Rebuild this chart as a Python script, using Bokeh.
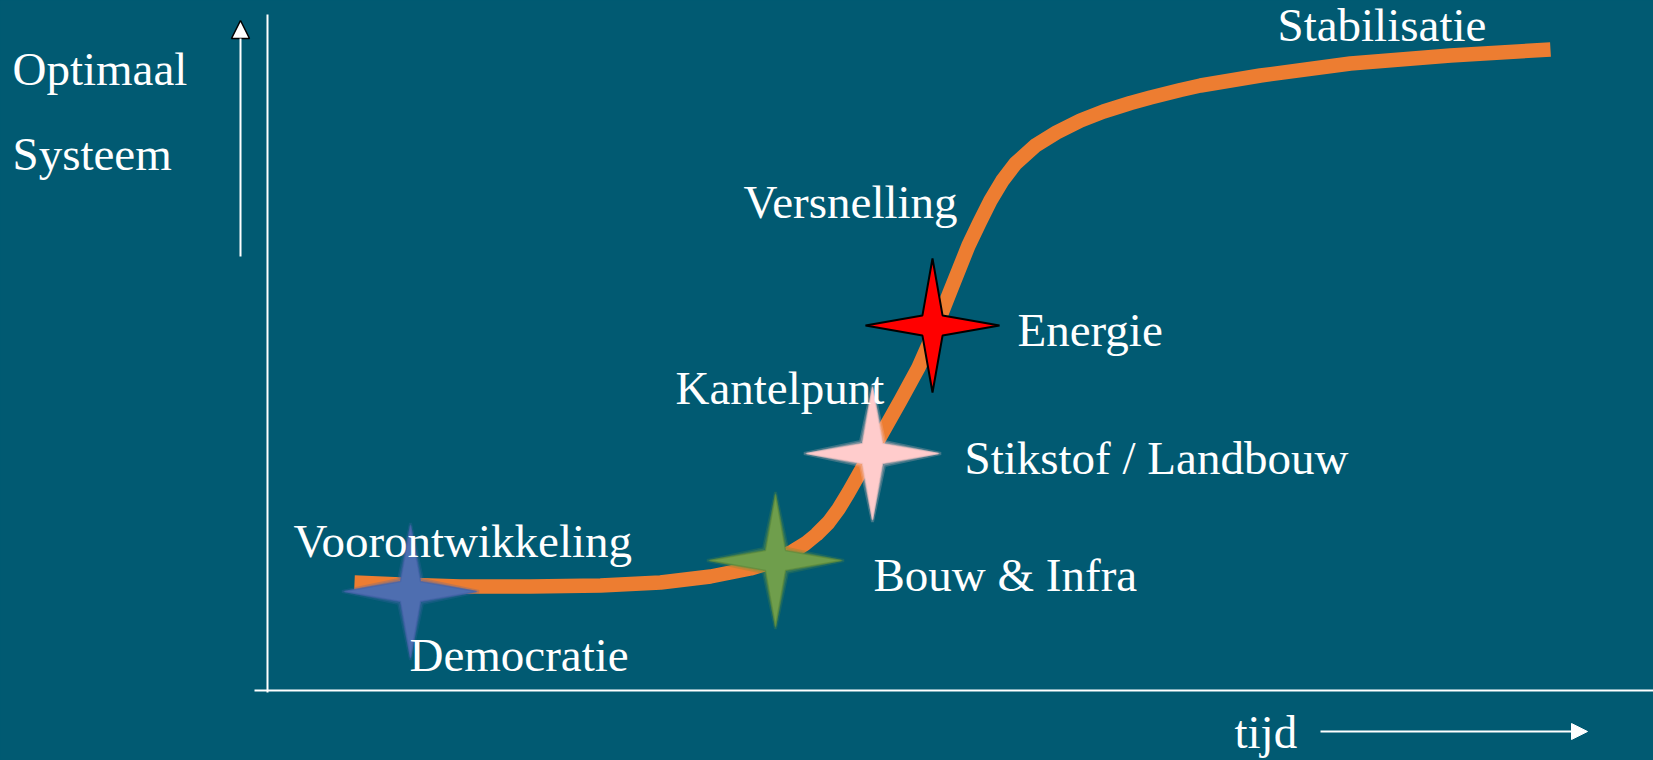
from bokeh.plotting import figure
from bokeh.models import Range1d, Arrow, NormalHead
from bokeh.core.properties import value
from bokeh.embed import file_html
from bokeh.resources import INLINE

BG = "#015a72"

# S-curve (time, level)
curve_t = [8.6, 13.2, 19.2, 26.2, 33.2, 39.2, 44.2, 48.2, 49.7, 51.2, 52.4, 53.7, 54.8, 56.0, 57.0,
           58.0, 59.7, 61.4, 63.2, 65.0, 66.5, 68.2, 70.0, 71.1, 72.2, 73.4, 74.7, 76.7, 78.8, 81.2,
           83.5, 86.2, 88.2, 91.2, 93.2, 99.2, 108.2, 118.2, 128.2]
curve_v = [10.8, 10.6, 10.4, 10.4, 10.5, 10.8, 11.4, 12.2, 12.65, 13.3, 13.9, 14.7, 15.6, 16.8, 18.15,
           19.8, 22.8, 25.8, 29.0, 32.3, 35.7, 40.0, 44.5, 46.8, 49.0, 51.0, 52.7, 54.5, 55.8, 57.0,
           57.9, 58.75, 59.3, 60.05, 60.5, 61.5, 62.7, 63.5, 64.1]

# stars (milestones)
star_names = ["Democratie", "Bouw & Infra", "Stikstof / Landbouw", "Energie"]
star_t = [14.2, 50.7, 60.4, 66.4]
star_v = [9.9, 13.0, 23.7, 36.5]
star_colors = ["#4e6eb0", "#6f9e4c", "#ffcccc", "#ff0000"]
star_edges = ["#4563a8", "#5d8a3c", "#f5c4c4", "#000000"]
star_soft = [True, True, True, False]

# labels (baseline positions)
labels = ["Optimaal", "Systeem", "Voorontwikkeling", "Democratie", "Kantelpunt",
          "Stikstof / Landbouw", "Bouw & Infra", "Energie", "Versnelling", "Stabilisatie", "tijd"]
label_t = [-25.6, -25.6, 2.5, 14.1, 40.7, 69.6, 60.5, 74.9, 47.5, 100.9, 96.6]
label_v = [60.6, 52.1, 13.4, 2.0, 28.7, 21.7, 10.0, 34.5, 47.3, 65.0, -5.7]
BASE_FIX = 1.55  # compensates the renderer's alphabetic-baseline shift
label_v_draw = [v + BASE_FIX for v in label_v]

p = figure(width=1653, height=760, output_backend="svg", toolbar_location=None,
           x_range=Range1d(-26.8, 138.5), y_range=Range1d(-7.0, 69.0),
           min_border=0, background_fill_color=BG, border_fill_color=BG)
p.axis.visible = False
p.grid.visible = False
p.outline_line_color = None

# axes lines
p.segment(x0=[-0.1], y0=[67.6], x1=[-0.1], y1=[-0.2], line_color="white", line_width=2)
p.segment(x0=[-1.4], y0=[0.0], x1=[138.5], y1=[0.0], line_color="white", line_width=2)

# direction arrows
p.add_layout(Arrow(end=NormalHead(size=18, fill_color="white", line_color="black", line_width=1.5),
                   x_start=-2.8, y_start=43.4, x_end=-2.8, y_end=67.0,
                   line_color="white", line_width=2))
p.add_layout(Arrow(end=NormalHead(size=16, fill_color="white", line_color="white", line_width=1),
                   x_start=105.2, y_start=-4.1, x_end=131.9, y_end=-4.1,
                   line_color="white", line_width=2))

# curve
p.line(curve_t, curve_v, line_color="#ed7d31", line_width=14.5, line_join="round", line_cap="butt")

# 4-pointed stars
R = 6.7
a = 0.15 * R
def star(cx, cy, r, ai):
    xs = [cx, cx + ai, cx + r, cx + ai, cx, cx - ai, cx - r, cx - ai]
    ys = [cy + r, cy + ai, cy, cy - ai, cy - r, cy - ai, cy, cy + ai]
    return xs, ys

for cx, cy, fc, ec, soft in zip(star_t, star_v, star_colors, star_edges, star_soft):
    if soft:
        xs, ys = star(cx, cy, R + 0.15, a + 0.2)
        p.patch(xs, ys, fill_color=fc, fill_alpha=0.3, line_color=ec, line_alpha=0.25, line_width=3)
        xs, ys = star(cx, cy, R - 0.1, a)
        p.patch(xs, ys, fill_color=fc, line_color=ec, line_alpha=0.7, line_width=1.5)
    else:
        xs, ys = star(cx, cy, R, a)
        p.patch(xs, ys, fill_color=fc, line_color=ec, line_width=2)

p.text(x=label_t, y=label_v_draw, text=labels, text_color="white",
       text_font=value("Liberation Serif"), text_font_size="47px",
       text_align="left", text_baseline="alphabetic")

html = file_html(p, INLINE)
html = html.replace("<head>", "<head><style>html,body{background:%s;margin:0;}</style>" % BG, 1)
open("out.html", "w").write(html)
